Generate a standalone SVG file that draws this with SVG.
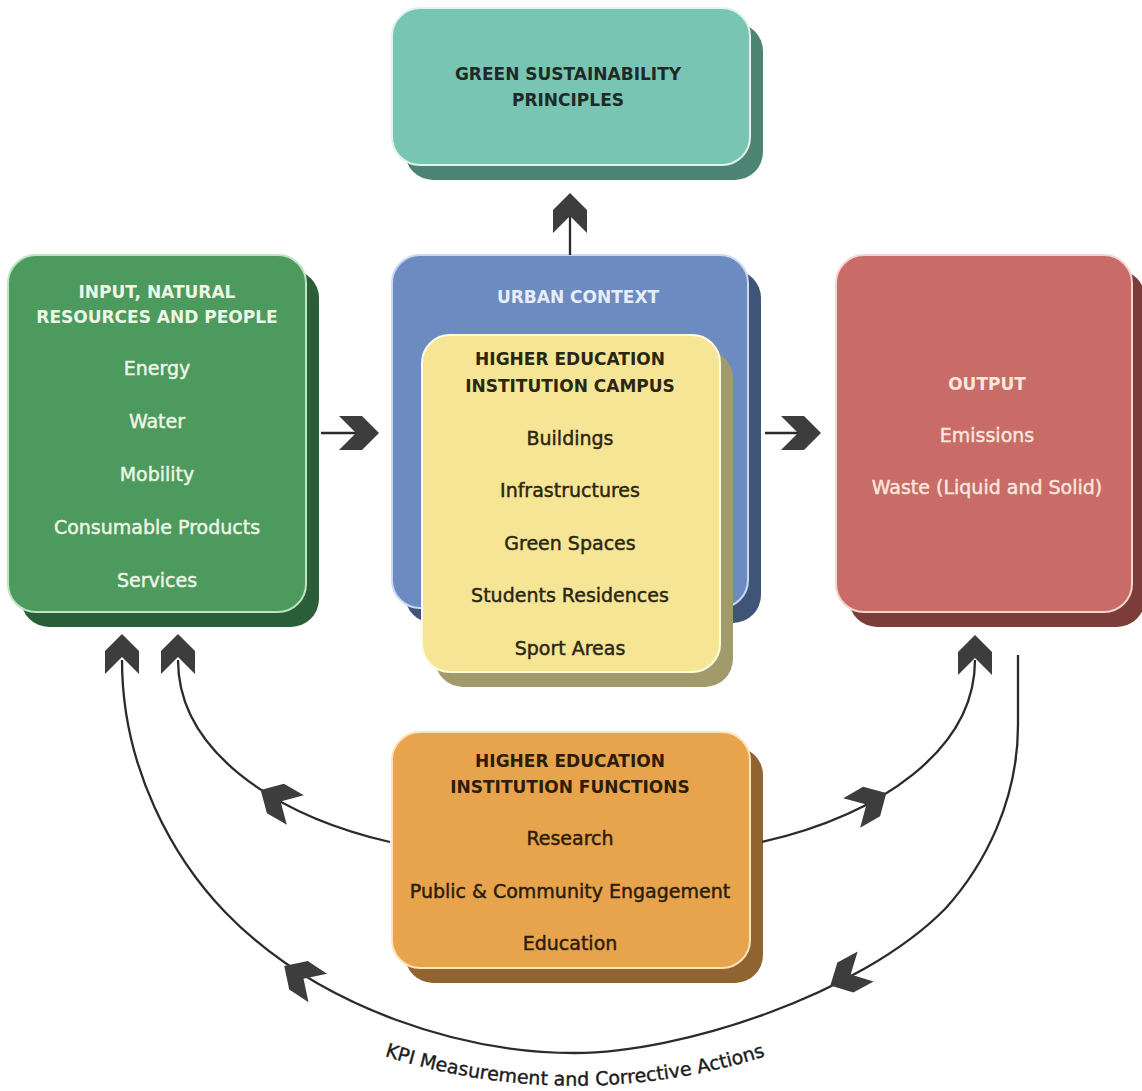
<svg xmlns="http://www.w3.org/2000/svg" xmlns:xlink="http://www.w3.org/1999/xlink" width="1142" height="1091" viewBox="0 0 1142 1091">
<style>
  .t { font-family: "DejaVu Sans", "Liberation Sans", sans-serif; text-anchor: middle; }
  .h { font-size: 17px; font-weight: bold; }
  .b { font-size: 19px; stroke-width: 0.45; }
  .front { stroke-width: 2; }
  .conn path.ln { fill: none; stroke: #2b2b2b; stroke-width: 2.3; }
  .chev { fill: #3d3d3d; }
  .kpi { font-family: "DejaVu Sans", "Liberation Sans", sans-serif; font-size: 19px; fill: #1c1c1c; stroke: #1c1c1c; stroke-width: 0.4; }
</style>
<defs>
  <path id="chev" d="M0,-20 L17,-3 L17,20 L0,3 L-17,20 L-17,-3 Z"/>
  <path id="kpiArc" d="M340,1040 A627,627 0 0 0 810,1040"/>
</defs>
<rect width="1142" height="1091" fill="#ffffff"/>

<g id="node-green-principles">
  <rect x="405" y="23" width="358" height="157" rx="28" fill="#4d8473"/>
  <rect class="front" x="392" y="8" width="358" height="157" rx="28" fill="#79c5b3" stroke="#e2f2ec"/>
  <text class="t h" x="568" y="80" fill="#1e2a25">GREEN SUSTAINABILITY</text>
  <text class="t h" x="568" y="106" fill="#1e2a25">PRINCIPLES</text>
</g>

<g id="node-input">
  <rect x="21" y="270" width="298" height="357" rx="28" fill="#2a5e38"/>
  <rect class="front" x="8" y="255" width="298" height="357" rx="28" fill="#4c9a5e" stroke="#c2e2c4"/>
  <g fill="#eef6e6" stroke="#eef6e6">
    <text class="t h" x="157" y="298" stroke="none">INPUT, NATURAL</text>
    <text class="t h" x="157" y="323" stroke="none">RESOURCES AND PEOPLE</text>
    <text class="t b" x="157" y="375">Energy</text>
    <text class="t b" x="157" y="428">Water</text>
    <text class="t b" x="157" y="481">Mobility</text>
    <text class="t b" x="157" y="534">Consumable Products</text>
    <text class="t b" x="157" y="587">Services</text>
  </g>
</g>

<g id="node-urban">
  <rect x="405" y="270" width="356" height="353" rx="28" fill="#3f5578"/>
  <rect class="front" x="392" y="255" width="356" height="353" rx="28" fill="#6c8bc0" stroke="#cbd8ef"/>
  <text class="t h" x="578" y="303" fill="#e6edf9">URBAN CONTEXT</text>
</g>

<g id="node-campus">
  <rect x="435" y="350" width="298" height="337" rx="28" fill="#a19b6c"/>
  <rect class="front" x="422" y="335" width="298" height="337" rx="28" fill="#f6e595" stroke="#fffbe2"/>
  <g fill="#2a2614" stroke="#2a2614">
    <text class="t h" x="570" y="365" stroke="none">HIGHER EDUCATION</text>
    <text class="t h" x="570" y="392" stroke="none">INSTITUTION CAMPUS</text>
    <text class="t b" x="570" y="445">Buildings</text>
    <text class="t b" x="570" y="497">Infrastructures</text>
    <text class="t b" x="570" y="550">Green Spaces</text>
    <text class="t b" x="570" y="602">Students Residences</text>
    <text class="t b" x="570" y="655">Sport Areas</text>
  </g>
</g>

<g id="node-output">
  <rect x="849" y="270" width="296" height="357" rx="28" fill="#7b3c3a"/>
  <rect class="front" x="836" y="255" width="296" height="357" rx="28" fill="#c96b66" stroke="#f4d5ce"/>
  <g fill="#fae6df" stroke="#fae6df">
    <text class="t h" x="987" y="390" stroke="none">OUTPUT</text>
    <text class="t b" x="987" y="442">Emissions</text>
    <text class="t b" x="987" y="494">Waste (Liquid and Solid)</text>
  </g>
</g>

<g id="node-functions">
  <rect x="405" y="747" width="358" height="236" rx="28" fill="#8f6431"/>
  <rect class="front" x="392" y="732" width="358" height="236" rx="28" fill="#e8a34d" stroke="#fde3ba"/>
  <g fill="#2b1d0a" stroke="#2b1d0a">
    <text class="t h" x="570" y="767" stroke="none">HIGHER EDUCATION</text>
    <text class="t h" x="570" y="793" stroke="none">INSTITUTION FUNCTIONS</text>
    <text class="t b" x="570" y="845">Research</text>
    <text class="t b" x="570" y="898">Public &amp; Community Engagement</text>
    <text class="t b" x="570" y="950">Education</text>
  </g>
</g>

<g id="connectors" class="conn">
  <path class="ln" d="M570,255 V213"/>
  <path class="ln" d="M321,433 H359"/>
  <path class="ln" d="M765,433 H801"/>
  <path class="ln" d="M390,842 C273,815 178,750 178,660"/>
  <path class="ln" d="M762,842 C880,815 975,750 975,660"/>
  <path class="ln" d="M1018,655 L1018,725 C1018,800 985,865 945,909 C860,995 680,1053 575,1053 C465,1053 320,1010 225,912 C175,860 122,770 122,660"/>
  <use class="chev" href="#chev" transform="translate(570,213)"/>
  <use class="chev" href="#chev" transform="translate(359,433) rotate(90)"/>
  <use class="chev" href="#chev" transform="translate(801,433) rotate(90)"/>
  <use class="chev" href="#chev" transform="translate(122,654)"/>
  <use class="chev" href="#chev" transform="translate(178,654)"/>
  <use class="chev" href="#chev" transform="translate(975,655)"/>
  <use class="chev" href="#chev" transform="translate(278,800) rotate(-60)"/>
  <use class="chev" href="#chev" transform="translate(869,803) rotate(60)"/>
  <use class="chev" href="#chev" transform="translate(301,977) rotate(-57)"/>
  <use class="chev" href="#chev" transform="translate(848,976) rotate(-118)"/>
</g>

<text class="kpi"><textPath href="#kpiArc" startOffset="50%" text-anchor="middle">KPI Measurement and Corrective Actions</textPath></text>
</svg>
